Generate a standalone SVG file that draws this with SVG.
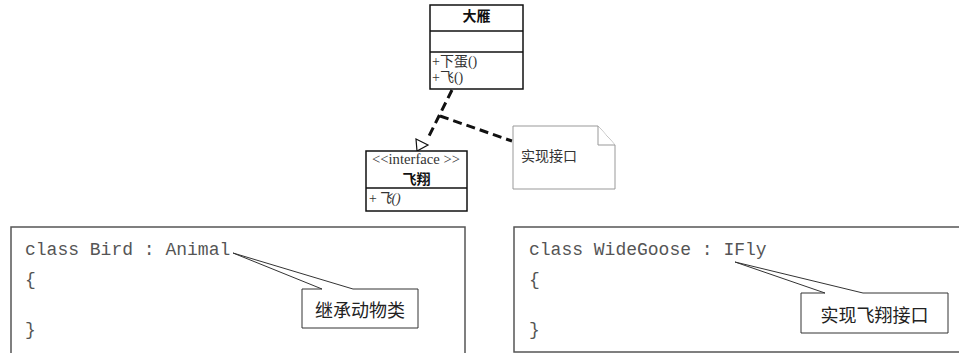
<svg xmlns="http://www.w3.org/2000/svg" width="959" height="353" viewBox="0 0 959 353">
<style>
.box{fill:#fff;stroke:#111;stroke-width:1.5}
.uml{font-family:"Liberation Serif","Noto Sans CJK SC",serif;font-size:14px;fill:#333}
.ttl{font-family:"Noto Sans CJK SC",sans-serif;font-size:14px;font-weight:bold;fill:#111}
.note{fill:#fff;stroke:#999;stroke-width:1}
.code{font-family:"Liberation Mono",monospace;font-size:18px;fill:#555}
.cbox{fill:#fff;stroke:#555;stroke-width:1.5}
.call{fill:#fff;stroke:#333;stroke-width:1}
.ctext{font-family:"Noto Sans CJK SC",sans-serif;font-size:18px;fill:#222}
.dash{fill:none;stroke:#111;stroke-width:3;stroke-dasharray:9,5}
</style>
<rect width="959" height="353" fill="#fff"/>
<g id="code-bird">
<rect class="cbox" x="11" y="227" width="454" height="130"/>
<text class="code" x="25" y="255">class Bird : Animal</text>
<text class="code" x="25" y="285">{</text>
<text class="code" x="25" y="335">}</text>
</g>
<g id="code-goose">
<rect class="cbox" x="514" y="227" width="450" height="125"/>
<text class="code" x="529" y="255">class WideGoose : IFly</text>
<text class="code" x="529" y="285">{</text>
<text class="code" x="529" y="335">}</text>
</g>
<g id="connectors">
<path class="dash" d="M452,90 L427,140"/>
<polygon points="416,139 428,145 417,151" fill="#fff" stroke="#111" stroke-width="1.2"/>
<path class="dash" d="M440,116 L512,141"/>
</g>
<g id="dayan">
<rect class="box" x="430" y="5" width="93" height="84"/>
<line x1="430" y1="31" x2="523" y2="31" stroke="#111" stroke-width="1.5"/>
<line x1="430" y1="52" x2="523" y2="52" stroke="#111" stroke-width="1.5"/>
<text class="ttl" x="476.5" y="21" text-anchor="middle">大雁</text>
<text class="uml" x="432" y="66">+下蛋()</text>
<text class="uml" x="432" y="82">+飞()</text>
</g>
<g id="feixiang">
<rect class="box" x="366" y="151" width="101" height="60"/>
<line x1="366" y1="188" x2="467" y2="188" stroke="#111" stroke-width="1.5"/>
<text class="uml" x="372" y="164" font-size="13" textLength="88" lengthAdjust="spacingAndGlyphs">&lt;&lt;interface &gt;&gt;</text>
<text class="ttl" x="416.5" y="184" font-size="13" text-anchor="middle">飞翔</text>
<text class="uml" x="368" y="203" font-style="italic">+飞()</text>
</g>
<g id="note">
<path class="note" d="M513,126 L598,126 L615,145 L615,189 L513,189 Z"/>
<path class="note" d="M598,126 L598,145 L615,145"/>
<text class="uml" x="521" y="161">实现接口</text>
</g>
<g id="callout-bird">
<path class="call" d="M302,289 L322,289 L233,253 L353,289 L418,289 L418,328 L302,328 Z"/>
<text class="ctext" x="360" y="317" text-anchor="middle">继承动物类</text>
</g>
<g id="callout-goose">
<path class="call" d="M801,293 L825,293 L735,262 L863,293 L948,293 L948,333 L801,333 Z"/>
<text class="ctext" x="874.5" y="322" text-anchor="middle">实现飞翔接口</text>
</g>
</svg>
